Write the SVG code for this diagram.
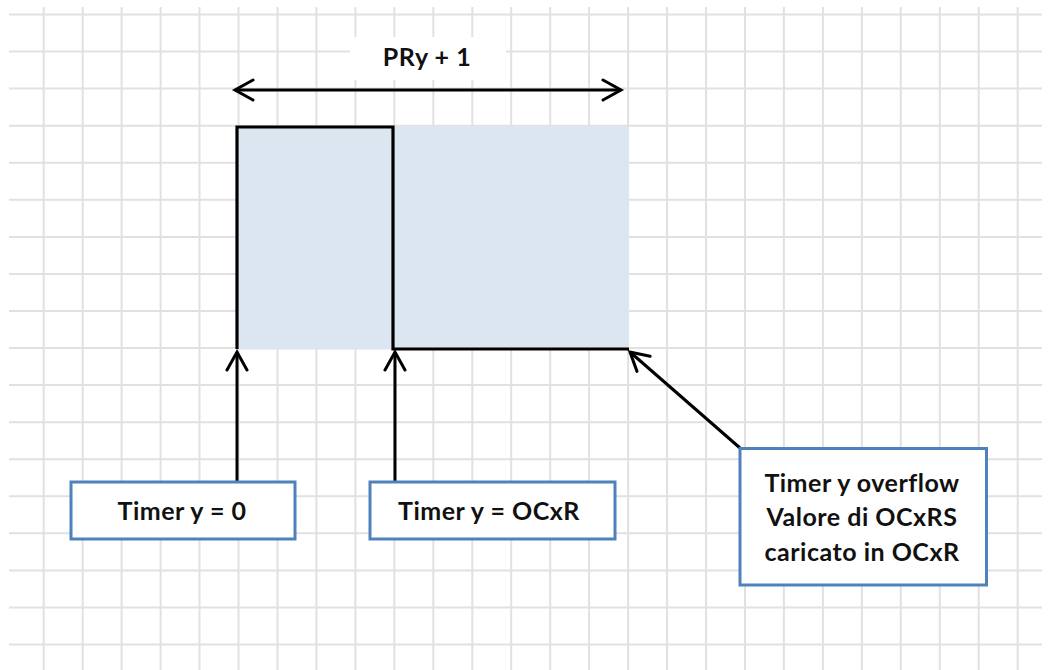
<svg xmlns="http://www.w3.org/2000/svg" width="1048" height="670" viewBox="0 0 1048 670">
<defs>
<style>
.grid line{stroke:#e1e1e1;stroke-width:2}
.wave{fill:none;stroke:#000;stroke-width:3.2;stroke-linejoin:miter}
.conn{fill:none;stroke:#000;stroke-width:3}
.box{fill:#fff;stroke:#4f81bd;stroke-width:3}
.lbl{font-family:Lato,"Liberation Sans",sans-serif;font-weight:bold;font-size:25px;letter-spacing:0.5px;fill:#111;text-anchor:middle}
</style>
<marker id="ah" viewBox="-20 -12 24 24" markerWidth="24" markerHeight="24" refX="0" refY="0" orient="auto-start-reverse" markerUnits="userSpaceOnUse">
<path d="M-18,-10 L0,0 L-18,10" fill="none" stroke="#000" stroke-width="3" stroke-linecap="round" stroke-linejoin="miter"/>
</marker>
</defs>
<rect width="1048" height="670" fill="#fff"/>
<g class="grid">
<line x1="9" y1="14.5" x2="1042" y2="14.5"/>
<line x1="9" y1="51.6" x2="1042" y2="51.6"/>
<line x1="9" y1="88.6" x2="1042" y2="88.6"/>
<line x1="9" y1="125.7" x2="1042" y2="125.7"/>
<line x1="9" y1="162.7" x2="1042" y2="162.7"/>
<line x1="9" y1="199.8" x2="1042" y2="199.8"/>
<line x1="9" y1="236.9" x2="1042" y2="236.9"/>
<line x1="9" y1="273.9" x2="1042" y2="273.9"/>
<line x1="9" y1="311" x2="1042" y2="311"/>
<line x1="9" y1="348" x2="1042" y2="348"/>
<line x1="9" y1="385.1" x2="1042" y2="385.1"/>
<line x1="9" y1="422.2" x2="1042" y2="422.2"/>
<line x1="9" y1="459.2" x2="1042" y2="459.2"/>
<line x1="9" y1="496.3" x2="1042" y2="496.3"/>
<line x1="9" y1="533.3" x2="1042" y2="533.3"/>
<line x1="9" y1="570.4" x2="1042" y2="570.4"/>
<line x1="9" y1="607.5" x2="1042" y2="607.5"/>
<line x1="9" y1="644.5" x2="1042" y2="644.5"/>
<line x1="43.7" y1="7" x2="43.7" y2="670"/>
<line x1="82.7" y1="7" x2="82.7" y2="670"/>
<line x1="121.6" y1="7" x2="121.6" y2="670"/>
<line x1="160.6" y1="7" x2="160.6" y2="670"/>
<line x1="199.5" y1="7" x2="199.5" y2="670"/>
<line x1="238.5" y1="7" x2="238.5" y2="670"/>
<line x1="277.5" y1="7" x2="277.5" y2="670"/>
<line x1="316.4" y1="7" x2="316.4" y2="670"/>
<line x1="355.4" y1="7" x2="355.4" y2="670"/>
<line x1="394.3" y1="7" x2="394.3" y2="670"/>
<line x1="433.3" y1="7" x2="433.3" y2="670"/>
<line x1="472.3" y1="7" x2="472.3" y2="670"/>
<line x1="511.2" y1="7" x2="511.2" y2="670"/>
<line x1="550.2" y1="7" x2="550.2" y2="670"/>
<line x1="589.1" y1="7" x2="589.1" y2="670"/>
<line x1="628.1" y1="7" x2="628.1" y2="670"/>
<line x1="667.1" y1="7" x2="667.1" y2="670"/>
<line x1="706" y1="7" x2="706" y2="670"/>
<line x1="745" y1="7" x2="745" y2="670"/>
<line x1="783.9" y1="7" x2="783.9" y2="670"/>
<line x1="822.9" y1="7" x2="822.9" y2="670"/>
<line x1="861.9" y1="7" x2="861.9" y2="670"/>
<line x1="900.8" y1="7" x2="900.8" y2="670"/>
<line x1="939.8" y1="7" x2="939.8" y2="670"/>
<line x1="978.7" y1="7" x2="978.7" y2="670"/>
<line x1="1017.7" y1="7" x2="1017.7" y2="670"/>
</g>
<g id="signal">
<rect x="237" y="126.5" width="392" height="223" fill="#dce6f1"/>
<path class="wave" d="M237,349 V127 H393 V349 H629"/>
</g>
<g id="period-label">
<rect x="350" y="37" width="156" height="43" fill="#fff"/>
<text class="lbl" x="427" y="66">PRy + 1</text>
</g>
<g id="connectors">
<line class="conn" x1="235" y1="90" x2="621" y2="90" marker-start="url(#ah)" marker-end="url(#ah)"/>
<line class="conn" x1="237" y1="481" x2="237" y2="352" marker-end="url(#ah)"/>
<line class="conn" x1="395" y1="481" x2="395" y2="352" marker-end="url(#ah)"/>
<line class="conn" x1="740" y1="448" x2="630" y2="352" marker-end="url(#ah)"/>
</g>
<g id="node-timer0">
<rect class="box" x="71" y="482" width="224" height="57"/>
<text class="lbl" x="182" y="520">Timer y = 0</text>
</g>
<g id="node-timerocxr">
<rect class="box" x="370" y="482" width="245" height="57"/>
<text class="lbl" x="489" y="520">Timer y = OCxR</text>
</g>
<g id="node-overflow">
<rect class="box" x="740" y="448.5" width="246.5" height="136.5"/>
<text class="lbl" x="862" y="492">Timer y overflow</text>
<text class="lbl" x="862" y="526">Valore di OCxRS</text>
<text class="lbl" x="862" y="561">caricato in OCxR</text>
</g>
</svg>
